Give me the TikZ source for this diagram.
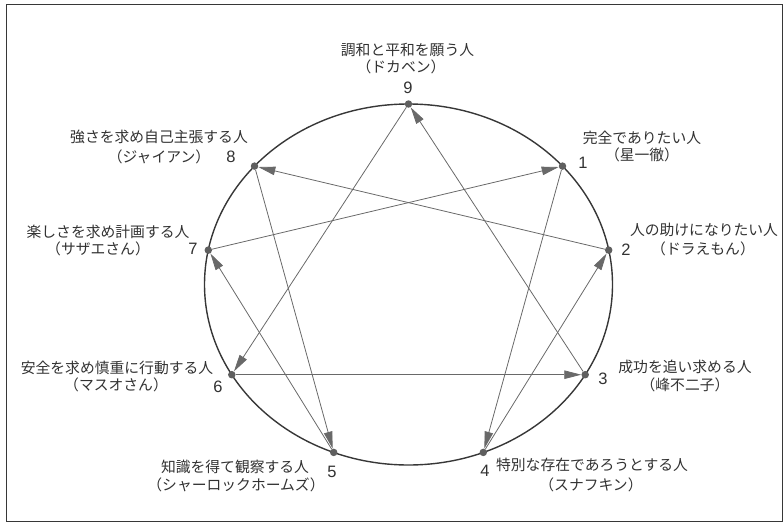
\documentclass[tikz,border=0pt]{standalone}
\usepackage{fontspec}
\newfontfamily\jp{Noto Sans CJK JP}
\newfontfamily\dg{Liberation Sans}
\usetikzlibrary{arrows.meta}
\definecolor{ink}{RGB}{50,50,50}
\definecolor{linegray}{RGB}{105,105,105}
\definecolor{dotgray}{RGB}{95,95,95}
\definecolor{rimgray}{RGB}{55,55,55}
\begin{document}
\begin{tikzpicture}[x=1pt,y=-1pt,
  lbl/.style={font=\jp\fontsize{14.8}{17}\selectfont, text=ink, inner sep=0pt, anchor=center},
  num/.style={font=\dg\fontsize{16.5}{18}\selectfont, text=ink, inner sep=0pt, anchor=center},
  dotpt/.style={circle, fill=dotgray, inner sep=0pt, minimum size=7.5pt},
  conn/.style={draw=linegray, line width=0.8pt, -{Triangle[length=17pt,width=8.5pt]}},
  frame/.style={draw=rimgray, line width=1pt}]
\useasboundingbox (0,0) rectangle (784,527);
\draw[frame] (6,4.5) rectangle (782.5,521);
\draw[draw=rimgray, line width=1.4pt] (408.5,284.5) ellipse [x radius=204pt, y radius=180.5pt];
% points
\node[dotpt] (p9) at (408.5,104) {};
\node[dotpt] (p1) at (562.5,166.1) {};
\node[dotpt] (p2) at (608.7,250.1) {};
\node[dotpt] (p3) at (585.2,374.7) {};
\node[dotpt] (p4) at (483.3,452.4) {};
\node[dotpt] (p5) at (333.7,452.4) {};
\node[dotpt] (p6) at (231.8,374.7) {};
\node[dotpt] (p7) at (208.3,250.1) {};
\node[dotpt] (p8) at (254.5,166.1) {};
% connectors
\draw[conn] (p1) -- (p4);
\draw[conn] (p4) -- (p2);
\draw[conn] (p2) -- (p8);
\draw[conn] (p8) -- (p5);
\draw[conn] (p5) -- (p7);
\draw[conn] (p7) -- (p1);
\draw[conn] (p9) -- (p6);
\draw[conn] (p6) -- (p3);
\draw[conn] (p3) -- (p9);
% labels
\node[lbl] (l9a) at (407.5,50) {調和と平和を願う人};
\node[lbl] (l9b) at (401,66.5) {（ドカベン）};
\node[num] (n9) at (408,88) {9};
\node[lbl] (l1a) at (642,138) {完全でありたい人};
\node[lbl] (l1b) at (642,155) {（星一徹）};
\node[num] (n1) at (583,163) {1};
\node[lbl] (l2a) at (704,230) {人の助けになりたい人};
\node[lbl] (l2b) at (703,249) {（ドラえもん）};
\node[num] (n2) at (626,250) {2};
\node[lbl] (l3a) at (685,367) {成功を追い求める人};
\node[lbl] (l3b) at (685,385) {（峰不二子）};
\node[num] (n3) at (603,379) {3};
\node[lbl] (l4a) at (592,465) {特別な存在であろうとする人};
\node[lbl] (l4b) at (591,485) {（スナフキン）};
\node[num] (n4) at (485,471) {4};
\node[lbl] (l5a) at (235,467) {知識を得て観察する人};
\node[lbl] (l5b) at (236,485) {（シャーロックホームズ）};
\node[num] (n5) at (332,472) {5};
\node[lbl] (l6a) at (117,368) {安全を求め慎重に行動する人};
\node[lbl] (l6b) at (116,385) {（マスオさん）};
\node[num] (n6) at (218,387) {6};
\node[lbl] (l7a) at (108,232) {楽しさを求め計画する人};
\node[lbl] (l7b) at (98,249) {（サザエさん）};
\node[num] (n7) at (193,249) {7};
\node[lbl] (l8a) at (159,137) {強さを求め自己主張する人};
\node[lbl] (l8b) at (159,157) {（ジャイアン）};
\node[num] (n8) at (231,157) {8};
\end{tikzpicture}
\end{document}
